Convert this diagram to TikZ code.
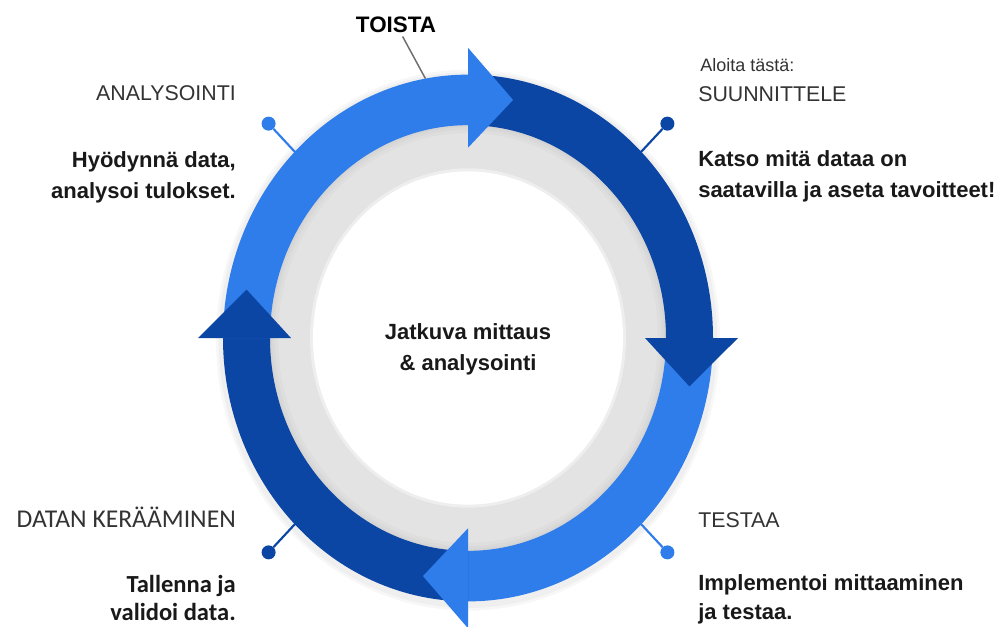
\documentclass[tikz,border=0pt]{standalone}
\usepackage{fontspec}
\setmainfont{Liberation Sans}
\newfontfamily\calibri{Carlito}
\usetikzlibrary{positioning}
\usepackage{xcolor}

\definecolor{lightring}{HTML}{2F7DEB}
\definecolor{darkring}{HTML}{0B46A5}
\definecolor{discgray}{HTML}{E3E3E3}
\definecolor{titlegray}{HTML}{333333}
\definecolor{leadergray}{HTML}{6E6E6E}

\begin{document}
\begin{tikzpicture}[x=0.75pt, y=-0.75pt,
        stage/.style={inner sep=0pt, text=titlegray, font=\fontsize{16}{19}\selectfont},
        note/.style={inner sep=0pt, text=black!90, font=\bfseries\fontsize{16.5}{20}\selectfont},
        stagecal/.style={inner sep=0pt, text=titlegray, font=\calibri\fontsize{19.2}{22}\selectfont},
        notecal/.style={inner sep=0pt, text=black!90, font=\calibri\bfseries\fontsize{18.4}{22}\selectfont},
        knob/.style={circle, inner sep=0pt, minimum size=10.5pt},
        stick/.style={line width=1.6pt},
        leader/.style={leadergray, line width=1.1pt}
    ]

        % Page
        \fill[white] (0,0) rectangle (1006,626);
        \useasboundingbox (0,0) rectangle (1006,626);

        \begin{scope}[shift={(468,338)}, yscale=-1.075]
            % Grey disc with white centre
            \fill[discgray] (0,0) circle[radius=202];
            \foreach \w in {12,7,3}
                \draw[black, opacity=0.02, line width=\w pt] (0,0) circle[radius=198];
            \draw[white, opacity=0.4, line width=3pt] (0,0) circle[radius=156];
            \fill[white] (0,0) circle[radius=155];

            % Soft shadow outside the ring
            \foreach \w in {9,5}
                \draw[black, opacity=0.03, line width=\w pt] (0,-2) circle[radius=246];

            % Ring quarters, clockwise
            \foreach \a/\col in {90/darkring, 0/lightring, -90/darkring, 180/lightring}
                \fill[\col] (\a:245) arc[start angle=\a, end angle={\a-90}, radius=245]
                    -- ({\a-90}:198) arc[start angle={\a-90}, end angle=\a, radius=198] -- cycle;

            % Arrow heads at the end of each quarter
            \foreach \a/\col in {90/darkring, 0/lightring, -90/darkring, 180/lightring}
                \fill[\col] ({\a-90}:177) -- ({\a-90}:270) -- ({\a-101.5}:226) -- cycle;

            % Pins from the ring to the stage labels
            \foreach \a/\col/\n in {135/lightring/ana, 45/darkring/suu, -45/lightring/tes, -135/darkring/dat} {
                \coordinate (\n-ring) at (\a:244);
                \node[knob, fill=\col] (\n-dot) at (\a:282) {};
                \draw[stick, \col] (\n-ring) -- (\n-dot);
            }

            \coordinate (toista-ring) at (100:245);
        \end{scope}

        % Repeat label
        \node[font=\bfseries\fontsize{16.8}{20}\selectfont, inner sep=3pt, anchor=base] (toista) at (396,32) {TOISTA};
        \draw[leader] (toista) -- (toista-ring);

        % Centre
        \node[note, anchor=base] (centre-1) at (468,339) {Jatkuva mittaus};
        \node[note, anchor=base] (centre-2) at (468,370) {\& analysointi};

        % Top left
        \node[stage, anchor=base east] (ana-title) at (236,100) {ANALYSOINTI};
        \node[note, anchor=base east] (ana-1) at (236,167) {Hyödynnä data,};
        \node[note, anchor=base east] (ana-2) at (236,198) {analysoi tulokset.};

        % Top right
        \node[stage, anchor=base west, font=\fontsize{13.5}{16}\selectfont] (suu-start) at (700,71) {Aloita tästä:};
        \node[stage, anchor=base west] (suu-title) at (698,101) {SUUNNITTELE};
        \node[note, anchor=base west] (suu-1) at (698,166) {Katso mitä dataa on};
        \node[note, anchor=base west] (suu-2) at (698,197) {saatavilla ja aseta tavoitteet!};

        % Bottom right
        \node[stage, anchor=base west] (tes-title) at (698,527) {TESTAA};
        \node[note, anchor=base west] (tes-1) at (698,590) {Implementoi mittaaminen};
        \node[note, anchor=base west] (tes-2) at (698,619) {ja testaa.};

        % Bottom left
        \node[stagecal, anchor=base east] (dat-title) at (236,527) {DATAN KERÄÄMINEN};
        \node[notecal, anchor=base east] (dat-1) at (236,592) {Tallenna ja};
        \node[notecal, anchor=base east] (dat-2) at (236,620) {validoi data.};

    \end{tikzpicture}
\end{document}
